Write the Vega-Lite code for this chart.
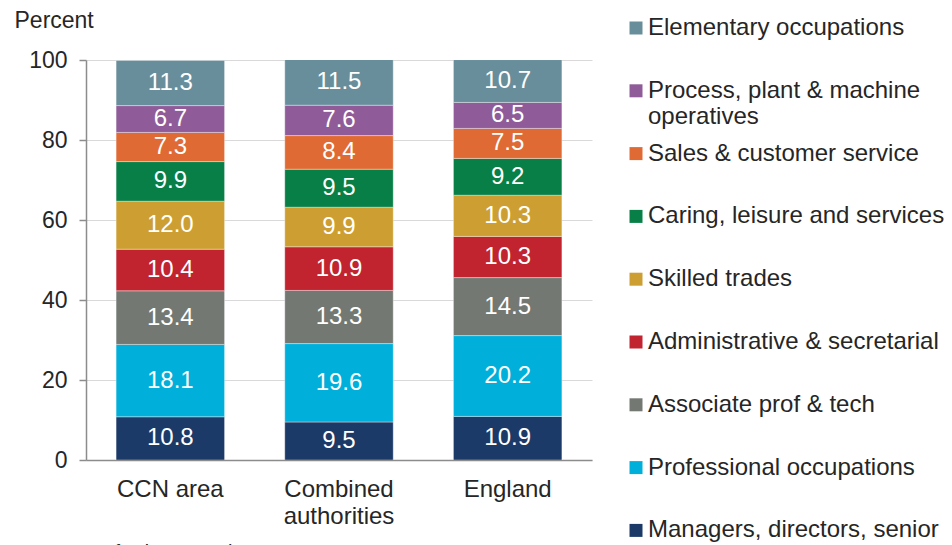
{
  "$schema": "https://vega.github.io/schema/vega-lite/v6.json",
  "width": 506,
  "height": 400,
  "autosize": {"type": "none"},
  "padding": {"left": 86, "top": 60, "right": 360, "bottom": 85},
  "background": "white",
  "config": {"view": {"stroke": null}, "font": "Liberation Sans"},
  "data": {
    "values": [
      {"area": "CCN area", "occupation": "Managers, directors, senior", "rank": 1, "value": 10.8},
      {"area": "CCN area", "occupation": "Professional occupations", "rank": 2, "value": 18.1},
      {"area": "CCN area", "occupation": "Associate prof & tech", "rank": 3, "value": 13.4},
      {"area": "CCN area", "occupation": "Administrative & secretarial", "rank": 4, "value": 10.4},
      {"area": "CCN area", "occupation": "Skilled trades", "rank": 5, "value": 12.0},
      {"area": "CCN area", "occupation": "Caring, leisure and services", "rank": 6, "value": 9.9},
      {"area": "CCN area", "occupation": "Sales & customer service", "rank": 7, "value": 7.3},
      {"area": "CCN area", "occupation": "Process, plant & machine operatives", "rank": 8, "value": 6.7},
      {"area": "CCN area", "occupation": "Elementary occupations", "rank": 9, "value": 11.3},
      {"area": "Combined authorities", "occupation": "Managers, directors, senior", "rank": 1, "value": 9.5},
      {"area": "Combined authorities", "occupation": "Professional occupations", "rank": 2, "value": 19.6},
      {"area": "Combined authorities", "occupation": "Associate prof & tech", "rank": 3, "value": 13.3},
      {"area": "Combined authorities", "occupation": "Administrative & secretarial", "rank": 4, "value": 10.9},
      {"area": "Combined authorities", "occupation": "Skilled trades", "rank": 5, "value": 9.9},
      {"area": "Combined authorities", "occupation": "Caring, leisure and services", "rank": 6, "value": 9.5},
      {"area": "Combined authorities", "occupation": "Sales & customer service", "rank": 7, "value": 8.4},
      {"area": "Combined authorities", "occupation": "Process, plant & machine operatives", "rank": 8, "value": 7.6},
      {"area": "Combined authorities", "occupation": "Elementary occupations", "rank": 9, "value": 11.5},
      {"area": "England", "occupation": "Managers, directors, senior", "rank": 1, "value": 10.9},
      {"area": "England", "occupation": "Professional occupations", "rank": 2, "value": 20.2},
      {"area": "England", "occupation": "Associate prof & tech", "rank": 3, "value": 14.5},
      {"area": "England", "occupation": "Administrative & secretarial", "rank": 4, "value": 10.3},
      {"area": "England", "occupation": "Skilled trades", "rank": 5, "value": 10.3},
      {"area": "England", "occupation": "Caring, leisure and services", "rank": 6, "value": 9.2},
      {"area": "England", "occupation": "Sales & customer service", "rank": 7, "value": 7.5},
      {"area": "England", "occupation": "Process, plant & machine operatives", "rank": 8, "value": 6.5},
      {"area": "England", "occupation": "Elementary occupations", "rank": 9, "value": 10.7}
    ]
  },
  "encoding": {
    "x": {
      "field": "area",
      "type": "nominal",
      "sort": ["CCN area", "Combined authorities", "England"],
      "scale": {"paddingInner": 0.357, "paddingOuter": 0.1785},
      "axis": {
        "title": "Source: Oxford Economics",
        "titleX": -72,
        "titleY": 82,
        "titleAlign": "left",
        "titleAnchor": "start",
        "titleBaseline": "top",
        "titleFontSize": 20,
        "titleFontWeight": "normal",
        "titleColor": "#262626",
        "labelAngle": 0,
        "labelFontSize": 24,
        "labelColor": "#262626",
        "labelBaseline": "top",
        "labelLineHeight": 27,
        "labelPadding": 17,
        "ticks": false,
        "domainColor": "#8c8c8c",
        "domainWidth": 1.5,
        "labelExpr": "datum.label == 'Combined authorities' ? ['Combined', 'authorities'] : datum.label"
      }
    }
  },
  "layer": [
    {
      "mark": {"type": "bar", "clip": true, "stroke": "#ffffff", "strokeWidth": 0.6, "strokeOpacity": 0.6},
      "encoding": {
        "y": {
          "field": "value",
          "type": "quantitative",
          "stack": "zero",
          "scale": {"domain": [0, 100], "nice": false},
          "axis": {
            "values": [0, 20, 40, 60, 80, 100],
            "title": "Percent",
            "titleAngle": 0,
            "titleAlign": "left",
            "titleBaseline": "alphabetic",
            "titleX": -72,
            "titleY": -33,
            "titleFontSize": 23,
            "titleFontWeight": "normal",
            "titleColor": "#262626",
            "labelFontSize": 23,
            "labelColor": "#262626",
            "labelPadding": 12,
            "tickSize": 7,
            "tickColor": "#8c8c8c",
            "tickWidth": 1.5,
            "domainColor": "#8c8c8c",
            "domainWidth": 1.5,
            "grid": true,
            "gridColor": "#d9d9d9",
            "gridWidth": 1
          }
        },
        "color": {
          "field": "occupation",
          "type": "nominal",
          "sort": [
            "Elementary occupations",
            "Process, plant & machine operatives",
            "Sales & customer service",
            "Caring, leisure and services",
            "Skilled trades",
            "Administrative & secretarial",
            "Associate prof & tech",
            "Professional occupations",
            "Managers, directors, senior"
          ],
          "scale": {
            "domain": [
              "Elementary occupations",
              "Process, plant & machine operatives",
              "Sales & customer service",
              "Caring, leisure and services",
              "Skilled trades",
              "Administrative & secretarial",
              "Associate prof & tech",
              "Professional occupations",
              "Managers, directors, senior"
            ],
            "range": ["#688e9b", "#8f5c99", "#e06a34", "#077f46", "#cd9f32", "#c1232f", "#737873", "#00b0da", "#1b3a68"]
          },
          "legend": {
            "orient": "none",
            "legendX": 538,
            "legendY": -44,
            "title": null,
            "padding": 0,
            "symbolType": "square",
            "symbolSize": 169,
            "symbolStrokeWidth": 0,
            "symbolOpacity": 1,
            "labelFontSize": 24,
            "labelLineHeight": 26,
            "labelColor": "#262626",
            "labelOffset": 0,
            "labelLimit": 400,
            "rowPadding": 12.8,
            "labelExpr": "datum.label == 'Process, plant & machine operatives' ? ['Process, plant & machine', 'operatives'] : datum.label == 'Associate prof & tech' ? ['\u2005Associate prof & tech', ''] : [datum.label, '']"
          }
        },
        "order": {"field": "rank", "type": "quantitative"}
      }
    },
    {
      "transform": [
        {"stack": "value", "groupby": ["area"], "sort": [{"field": "rank", "order": "ascending"}], "as": ["v0", "v1"]},
        {"calculate": "(datum.v0 + datum.v1) / 2", "as": "mid"}
      ],
      "mark": {"type": "text", "color": "#ffffff", "fontSize": 24, "baseline": "middle", "align": "center"},
      "encoding": {
        "y": {"field": "mid", "type": "quantitative", "title": "Percent"},
        "text": {"field": "value", "type": "quantitative", "format": ".1f"}
      }
    }
  ]
}
